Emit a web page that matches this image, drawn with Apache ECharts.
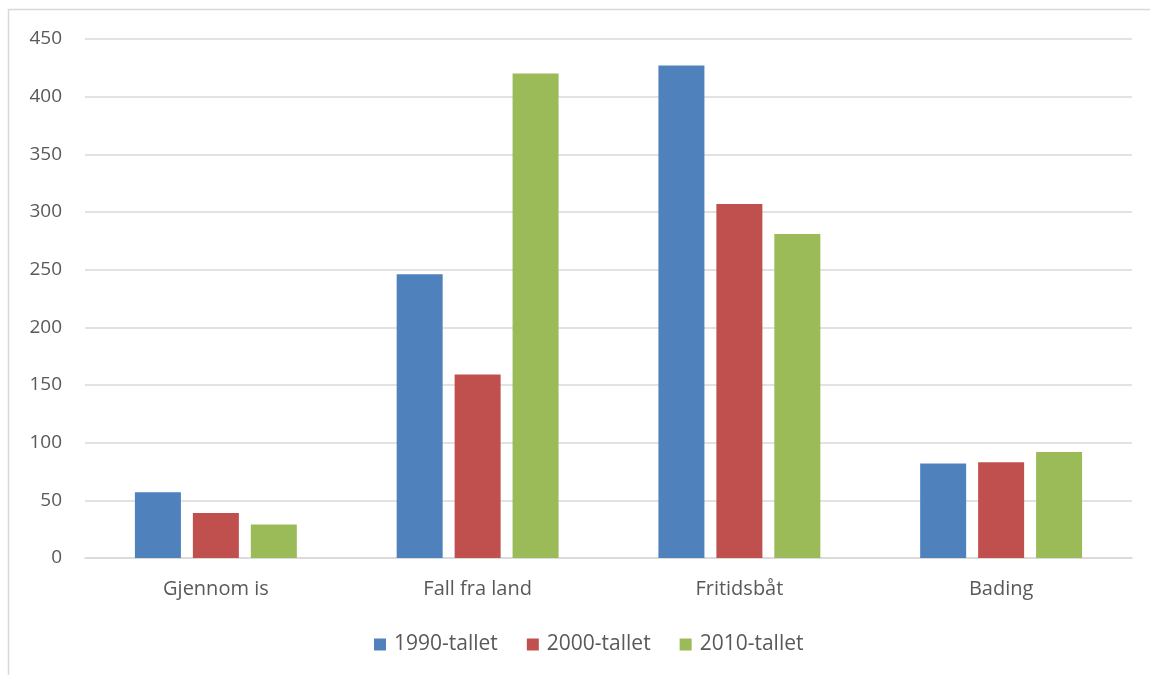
<!DOCTYPE html>
<html>
<head>
<meta charset="utf-8">
<script src="https://cdn.jsdelivr.net/npm/echarts@6/dist/echarts.min.js"></script>
<style>html,body{margin:0;padding:0;background:#fff}#c{width:1150px;height:675px}</style>
</head>
<body>
<div id="c"></div>
<script>
const categories = ['Gjennom is', 'Fall fra land', 'Fritidsbåt', 'Bading'];
const seriesNames = ['1990-tallet', '2000-tallet', '2010-tallet'];
const s1990 = [57, 246, 427, 82];
const s2000 = [39, 159, 307, 83];
const s2010 = [29, 420, 281, 92];
const colors = ['#4F81BD', '#C0504D', '#9BBB59'];
const FONT = 'Open Sans';

const chart = echarts.init(document.getElementById('c'));
const values = [s1990, s2000, s2010];
chart.setOption({
  animation: false,
  textStyle: { fontFamily: FONT },
  graphic: [{
    type: 'rect', shape: { x: 8.5, y: 9.5, width: 1200, height: 700 },
    style: { fill: 'none', stroke: '#D9D9D9', lineWidth: 1.5 }, silent: true, z: -10
  }],
  grid: { left: 85, right: 18, top: 39, bottom: 117, containLabel: false },
  legend: {
    bottom: 15, left: 369, padding: [5, 5, 5, 5], itemWidth: 12, itemHeight: 12, itemGap: 29,
    icon: 'rect',
    textStyle: { fontFamily: FONT, fontSize: 21, color: '#595959', padding: [0, 0, 0, 3] },
    data: seriesNames
  },
  xAxis: {
    type: 'category', data: categories,
    axisLine: { show: true, lineStyle: { color: '#D9D9D9', width: 1.5 } },
    axisTick: { show: false },
    axisLabel: { color: '#595959', fontSize: 20, fontFamily: FONT, margin: 21 }
  },
  yAxis: {
    type: 'value', min: 0, max: 450, interval: 50,
    axisLine: { show: false }, axisTick: { show: false },
    splitLine: { lineStyle: { color: '#D9D9D9', width: 1.5 } },
    axisLabel: { color: '#595959', fontSize: 19, fontFamily: FONT, margin: 23 }
  },
  series: seriesNames.map((n, i) => ({
    name: n, type: 'bar', data: values[i], barWidth: 46, barGap: '26%',
    itemStyle: { color: colors[i] }
  }))
});
</script>
</body>
</html>
